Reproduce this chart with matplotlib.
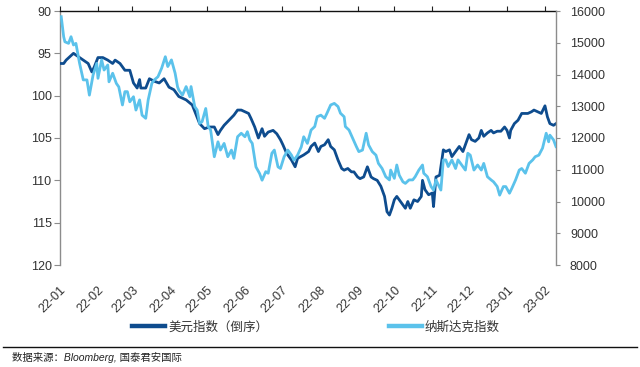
import matplotlib
matplotlib.use("Agg")
import matplotlib.pyplot as plt
import matplotlib.dates as mdates
from matplotlib.lines import Line2D
import pandas as pd

# ---------------- data ----------------
dxy_dates = [
    "2022-01-02", "2022-01-04", "2022-01-06", "2022-01-12", "2022-01-16", "2022-01-20", "2022-01-24", "2022-01-27", "2022-01-29", "2022-02-01",
    "2022-02-05", "2022-02-09", "2022-02-13", "2022-02-15", "2022-02-19", "2022-02-23", "2022-02-27", "2022-03-02", "2022-03-05", "2022-03-07",
    "2022-03-08", "2022-03-12", "2022-03-15", "2022-03-19", "2022-03-23", "2022-03-27", "2022-03-31", "2022-04-04", "2022-04-08", "2022-04-14",
    "2022-04-19", "2022-04-25", "2022-04-29", "2022-05-03", "2022-05-07", "2022-05-10", "2022-05-12", "2022-05-15", "2022-05-19", "2022-05-23",
    "2022-05-26", "2022-05-29", "2022-06-01", "2022-06-04", "2022-06-06", "2022-06-09", "2022-06-12", "2022-06-15", "2022-06-17", "2022-06-20",
    "2022-06-24", "2022-06-27", "2022-06-30", "2022-07-02", "2022-07-05", "2022-07-09", "2022-07-12", "2022-07-14", "2022-07-19", "2022-07-23",
    "2022-07-25", "2022-07-28", "2022-07-31", "2022-08-02", "2022-08-05", "2022-08-08", "2022-08-10", "2022-08-13", "2022-08-16", "2022-08-19",
    "2022-08-21", "2022-08-24", "2022-08-27", "2022-08-29", "2022-09-01", "2022-09-03", "2022-09-06", "2022-09-09", "2022-09-12", "2022-09-14",
    "2022-09-17", "2022-09-20", "2022-09-23", "2022-09-25", "2022-09-27", "2022-09-29", "2022-10-01", "2022-10-03", "2022-10-06", "2022-10-08",
    "2022-10-10", "2022-10-12", "2022-10-14", "2022-10-17", "2022-10-20", "2022-10-23", "2022-10-24", "2022-10-26", "2022-10-29", "2022-11-01",
    "2022-11-02", "2022-11-04", "2022-11-07", "2022-11-10", "2022-11-12", "2022-11-15", "2022-11-17", "2022-11-20", "2022-11-23", "2022-11-26",
    "2022-11-28", "2022-12-01", "2022-12-03", "2022-12-06", "2022-12-09", "2022-12-11", "2022-12-13", "2022-12-16", "2022-12-19", "2022-12-21",
    "2022-12-24", "2022-12-27", "2022-12-30", "2023-01-01", "2023-01-03", "2023-01-04", "2023-01-07", "2023-01-10", "2023-01-13", "2023-01-15",
    "2023-01-18", "2023-01-21", "2023-01-23", "2023-01-26", "2023-01-29", "2023-02-01", "2023-02-03", "2023-02-05", "2023-02-08", "2023-02-10",
]
dxy_values = [
    96.2, 96.2, 95.8, 95.0, 95.4, 95.8, 96.2, 97.2, 96.6, 95.5,
    95.5, 95.8, 96.2, 95.8, 96.2, 97.0, 97.0, 98.5, 99.1, 98.1,
    99.1, 99.1, 98.0, 98.3, 98.5, 98.0, 99.0, 99.3, 100.1, 100.5,
    101.1, 103.3, 103.9, 103.7, 103.7, 104.6, 104.1, 103.5, 102.9, 102.3,
    101.7, 101.7, 101.9, 102.1, 102.7, 103.7, 105.0, 103.9, 104.8, 104.3,
    104.1, 104.5, 105.2, 105.8, 106.8, 107.6, 108.4, 107.4, 107.0, 106.6,
    106.0, 105.6, 106.6, 106.0, 105.8, 105.2, 106.0, 106.4, 107.6, 108.6,
    108.8, 108.6, 109.0, 109.0, 109.6, 109.8, 109.6, 108.4, 109.6, 109.8,
    110.0, 110.7, 111.9, 113.7, 114.1, 113.3, 112.3, 111.9, 112.5, 112.9,
    113.3, 112.5, 113.3, 112.3, 112.5, 111.9, 110.0, 111.1, 111.7, 111.5,
    113.1, 109.6, 109.4, 106.4, 106.6, 106.4, 107.2, 106.6, 106.0, 106.6,
    105.8, 104.6, 105.2, 105.4, 105.0, 104.1, 104.8, 104.4, 104.1, 104.4,
    104.2, 104.2, 103.7, 104.1, 105.0, 104.1, 103.3, 102.9, 102.1, 102.1,
    102.1, 101.9, 101.7, 101.9, 102.1, 101.2, 102.5, 103.3, 103.5, 103.3,
]

ndx_dates = [
    "2022-01-02", "2022-01-04", "2022-01-05", "2022-01-08", "2022-01-10", "2022-01-12", "2022-01-14", "2022-01-17", "2022-01-20", "2022-01-23",
    "2022-01-25", "2022-01-28", "2022-01-31", "2022-02-01", "2022-02-04", "2022-02-06", "2022-02-09", "2022-02-10", "2022-02-13", "2022-02-16",
    "2022-02-18", "2022-02-21", "2022-02-23", "2022-02-25", "2022-02-27", "2022-03-02", "2022-03-04", "2022-03-07", "2022-03-09", "2022-03-12",
    "2022-03-14", "2022-03-17", "2022-03-19", "2022-03-22", "2022-03-25", "2022-03-28", "2022-03-30", "2022-04-02", "2022-04-05", "2022-04-07",
    "2022-04-08", "2022-04-11", "2022-04-14", "2022-04-17", "2022-04-18", "2022-04-21", "2022-04-23", "2022-04-25", "2022-04-27", "2022-04-30",
    "2022-05-02", "2022-05-04", "2022-05-07", "2022-05-10", "2022-05-12", "2022-05-15", "2022-05-18", "2022-05-21", "2022-05-23", "2022-05-26",
    "2022-05-29", "2022-06-01", "2022-06-03", "2022-06-05", "2022-06-07", "2022-06-10", "2022-06-13", "2022-06-15", "2022-06-18", "2022-06-20",
    "2022-06-23", "2022-06-25", "2022-06-28", "2022-06-30", "2022-07-03", "2022-07-06", "2022-07-09", "2022-07-11", "2022-07-14", "2022-07-17",
    "2022-07-19", "2022-07-22", "2022-07-25", "2022-07-28", "2022-07-30", "2022-08-02", "2022-08-05", "2022-08-07", "2022-08-10", "2022-08-13",
    "2022-08-16", "2022-08-18", "2022-08-21", "2022-08-22", "2022-08-25", "2022-08-28", "2022-08-31", "2022-09-02", "2022-09-05", "2022-09-08",
    "2022-09-10", "2022-09-13", "2022-09-16", "2022-09-18", "2022-09-21", "2022-09-24", "2022-09-27", "2022-09-28", "2022-10-01", "2022-10-03",
    "2022-10-05", "2022-10-08", "2022-10-10", "2022-10-13", "2022-10-16", "2022-10-18", "2022-10-21", "2022-10-24", "2022-10-25", "2022-10-28",
    "2022-10-31", "2022-11-02", "2022-11-04", "2022-11-08", "2022-11-10", "2022-11-12", "2022-11-14", "2022-11-17", "2022-11-20", "2022-11-22",
    "2022-11-25", "2022-11-28", "2022-11-30", "2022-12-02", "2022-12-05", "2022-12-08", "2022-12-11", "2022-12-13", "2022-12-16", "2022-12-19",
    "2022-12-21", "2022-12-24", "2022-12-26", "2022-12-29", "2022-12-31", "2023-01-03", "2023-01-05", "2023-01-08", "2023-01-11", "2023-01-13",
    "2023-01-16", "2023-01-19", "2023-01-22", "2023-01-24", "2023-01-27", "2023-01-30", "2023-02-02", "2023-02-04", "2023-02-05", "2023-02-08",
    "2023-02-10",
]
ndx_values = [
    15820, 15190, 15030, 14980, 15190, 14930, 14980, 14350, 13830, 13830,
    13350, 13980, 14350, 13880, 14460, 14140, 14300, 13770, 14040, 13720,
    13610, 13040, 13460, 13460, 13140, 13300, 12880, 13200, 12720, 12620,
    13200, 13720, 13830, 13930, 14200, 14560, 14250, 14460, 14040, 13610,
    13510, 13350, 13620, 13300, 13620, 12990, 12880, 12460, 12510, 12930,
    12360, 12250, 11410, 11880, 11620, 11830, 11410, 11620, 11360, 12040,
    12150, 12040, 12200, 11940, 11830, 11090, 10880, 10670, 10940, 10890,
    11520, 11620, 11090, 11040, 11410, 11620, 11460, 11300, 11460, 11720,
    12040, 11830, 12250, 12360, 12670, 12720, 12620, 12780, 13040, 13090,
    12990, 12780, 12670, 12360, 12250, 11990, 11730, 11570, 11620, 12150,
    11780, 11570, 11460, 11200, 11040, 10780, 10680, 10990, 10730, 11150,
    10830, 10620, 10570, 10680, 10680, 10780, 10990, 11150, 10890, 10780,
    10470, 10360, 10680, 10360, 11310, 11310, 11100, 11310, 11040, 11310,
    11150, 10990, 11520, 11460, 10990, 11150, 10990, 11200, 10780, 10680,
    10620, 10470, 10200, 10470, 10470, 10260, 10420, 10680, 10990, 11040,
    10890, 11200, 11310, 11410, 11460, 11680, 12150, 11880, 12090, 11940,
    11730,
]

month_ticks = ["2022-01-01", "2022-02-01", "2022-03-01", "2022-04-01", "2022-05-01", "2022-06-01", "2022-07-01",
               "2022-08-01", "2022-09-01", "2022-10-01", "2022-11-01", "2022-12-01", "2023-01-01", "2023-02-01"]
left_ticks = [90, 95, 100, 105, 110, 115, 120]
right_ticks = [8000, 9000, 10000, 11000, 12000, 13000, 14000, 15000, 16000]
label_dxy = "美元指数（倒序）"
label_ndx = "纳斯达克指数"
source_text = "数据来源：Bloomberg, 国泰君安国际"

# ---------------- style ----------------
plt.rcParams["font.family"] = ["Liberation Sans", "Noto Sans CJK SC", "DejaVu Sans"]
DARK = "#0E4C8E"
LIGHT = "#5BC2EB"
TXT = "#333333"
GRAY = "#8C8C8C"

fig = plt.figure(figsize=(6.4, 3.67), dpi=100)
W, H = 640, 367
ax = fig.add_axes([60 / W, (H - 265) / H, 496 / W, 254 / H])
ax2 = ax.twinx()

d1 = pd.to_datetime(dxy_dates)
d2 = pd.to_datetime(ndx_dates)
ax.plot(d1, dxy_values, color=DARK, lw=2.0, solid_joinstyle="round", zorder=3)
ax2.plot(d2, ndx_values, color=LIGHT, lw=2.0, solid_joinstyle="round", zorder=3)

ax.set_xlim(pd.Timestamp("2022-01-01"), pd.Timestamp("2023-02-10"))
ax.set_ylim(120, 90)
ax.set_yticks(left_ticks)
ax2.set_ylim(8000, 16000)
ax2.set_yticks(right_ticks)

ax.set_xticks(pd.to_datetime(month_ticks))
ax.xaxis.set_major_formatter(mdates.DateFormatter("%y-%m"))
ax.tick_params(axis="x", top=True, bottom=False, labeltop=False, labelbottom=True,
               direction="out", length=3.5, width=0.8, color="#222222",
               labelsize=9, labelcolor=TXT, pad=10)
for lab in ax.get_xticklabels():
    lab.set_rotation(45)
    lab.set_ha("right")
    lab.set_va("top")
    lab.set_rotation_mode("anchor")

ax.tick_params(axis="y", left=True, right=False, direction="out", length=4, width=0.8,
               color=GRAY, labelsize=9, labelcolor=TXT, pad=2)
ax2.tick_params(axis="y", right=True, left=False, direction="out", length=3, width=0.8,
                color=GRAY, labelsize=9, labelcolor=TXT, pad=7)

for s in ["bottom", "right"]:
    ax.spines[s].set_visible(False)
ax.spines["top"].set_color("#111111")
ax.spines["top"].set_linewidth(1.0)
ax.spines["left"].set_color(GRAY)
ax.spines["left"].set_linewidth(1.0)
for s in ["bottom", "left", "top"]:
    ax2.spines[s].set_visible(False)
ax2.spines["right"].set_color(GRAY)
ax2.spines["right"].set_linewidth(1.0)

# legend
handles = [Line2D([], [], color=DARK, lw=3.2), Line2D([], [], color=LIGHT, lw=3.2)]
leg = fig.legend(handles, [label_dxy, label_ndx], loc="center",
                 bbox_to_anchor=(316 / W, 1 - 327 / H), ncol=2, frameon=False,
                 handlelength=2.65, handletextpad=0.25, columnspacing=9.6,
                 prop={"family": ["Noto Sans CJK SC"], "size": 9})
for t in leg.get_texts():
    t.set_color(TXT)

# rule and source
fig.add_artist(Line2D([3 / W, 637 / W], [1 - 347 / H, 1 - 347 / H], color="#111111", lw=1.0))
fig.text(12 / W, 1 - 357 / H, source_text, fontsize=7.5, style="italic", color="#222222",
         va="center", ha="left", family=["Liberation Sans", "Noto Sans CJK SC"])

fig.savefig("out.png", dpi=100)
